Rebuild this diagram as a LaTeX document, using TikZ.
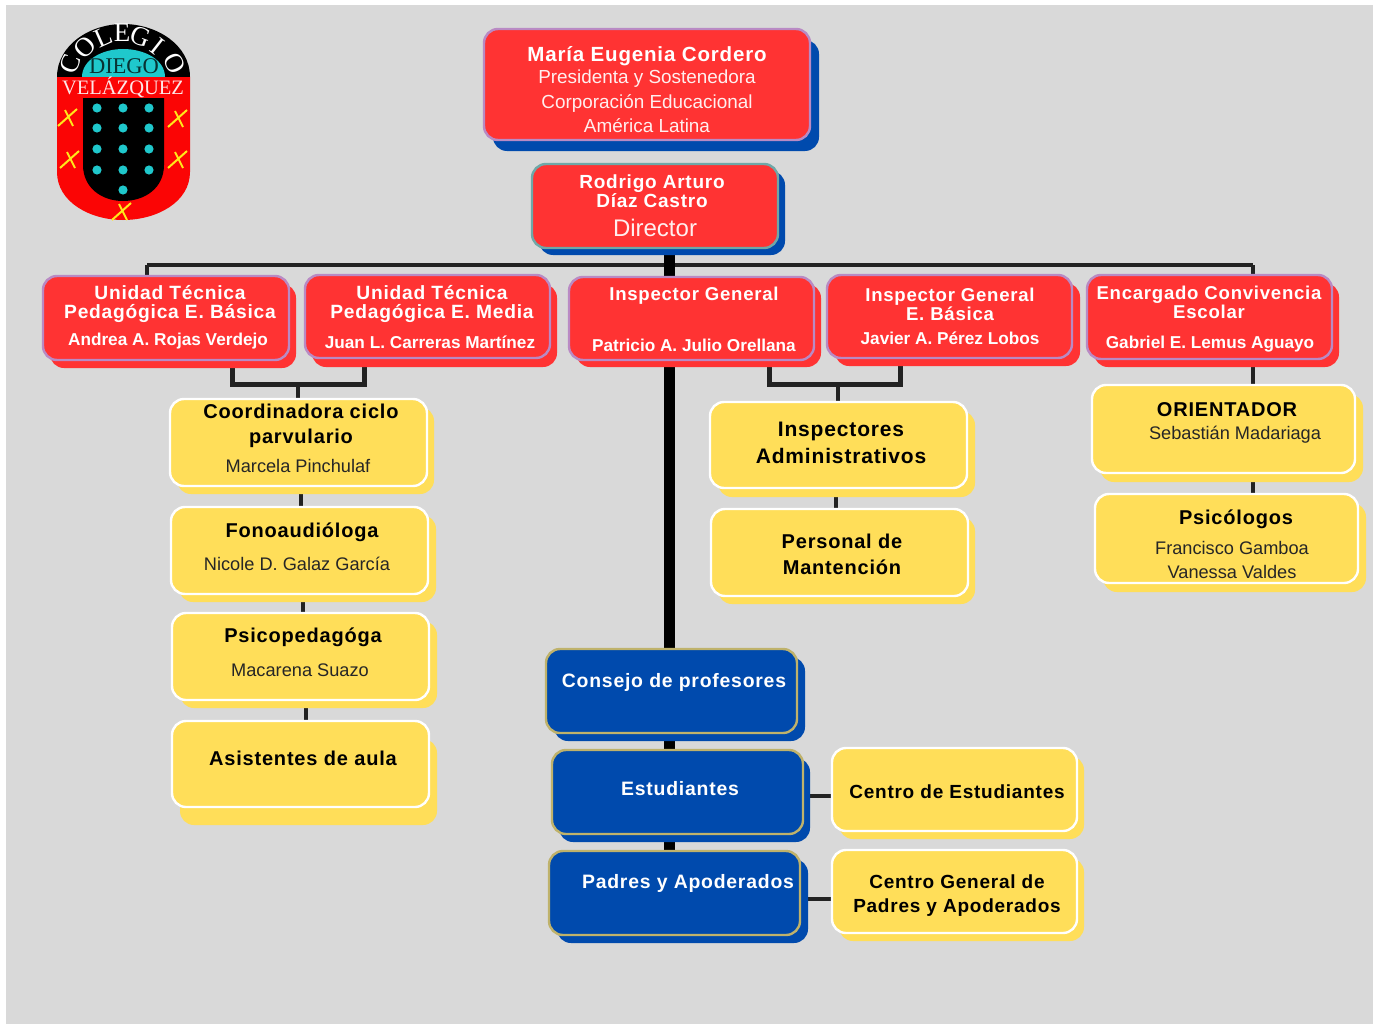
\documentclass[tikz,border=0pt]{standalone}
\usepackage{fontspec}
\usetikzlibrary{shadows}
\setmainfont{Liberation Sans}
\newfontfamily\headfont[LetterSpace=4]{Liberation Sans}
\newfontfamily\logofont{Liberation Serif}
\pgfdeclarelayer{back}
\pgfsetlayers{back,main}

\begin{document}
\begin{tikzpicture}[x=1pt,y=-1pt]
  % Colors
  \definecolor{pagegray}{HTML}{D9D9D9}
  \definecolor{boxred}{HTML}{FF3333}
  \definecolor{boxblue}{HTML}{004AAD}
  \definecolor{boxyellow}{HTML}{FFDE59}
  \definecolor{linedark}{HTML}{222222}
  \definecolor{logored}{HTML}{FB0505}
  \definecolor{logocyan}{HTML}{1FC8CC}
  \definecolor{logoyellow}{HTML}{FFE81A}
  \definecolor{purpleedge}{HTML}{B98AC4}
  \definecolor{tealedge}{HTML}{6FA8A8}
  \definecolor{khakiedge}{HTML}{BFB26B}

  % Styles
  \tikzstyle{box}=[rounded corners=14pt,line width=2.4pt,inner sep=0pt,outer sep=0pt]
  \tikzset{
    shade blue/.style 2 args={general shadow={shadow xshift=#1pt,shadow yshift=-#2pt,fill=boxblue}},
    shade red/.style 2 args={general shadow={shadow xshift=#1pt,shadow yshift=-#2pt,fill=boxred}},
    shade yellow/.style 2 args={general shadow={shadow xshift=#1pt,shadow yshift=-#2pt,fill=boxyellow}},
    size/.style 2 args={minimum width=#1pt,minimum height=#2pt}
  }
  \tikzstyle{redbox}=[box,fill=boxred,draw=purpleedge]
  \tikzstyle{bluebox}=[box,fill=boxblue,draw=khakiedge]
  \tikzstyle{yellowbox}=[box,fill=boxyellow,draw=white]
  \tikzstyle{line}=[anchor=base,inner sep=0pt]
  \tikzstyle{headwhite}=[line,text=white,font=\headfont\bfseries\fontsize{19.4}{24}\selectfont]
  \tikzstyle{headrow}=[line,text=white,font=\headfont\bfseries\fontsize{18.6}{24}\selectfont]
  \tikzstyle{headunit}=[line,text=white,font=\headfont\bfseries\fontsize{19.2}{24}\selectfont]
  \tikzstyle{headblack}=[line,text=black,font=\headfont\bfseries\fontsize{20}{24}\selectfont]
  \tikzstyle{headlarge}=[line,text=black,font=\headfont\bfseries\fontsize{21}{24}\selectfont]
  \tikzstyle{headsmall}=[line,text=black,font=\headfont\bfseries\fontsize{19}{24}\selectfont]
  \tikzstyle{namebold}=[line,text=white,font=\bfseries\fontsize{17.2}{20}\selectfont]
  \tikzstyle{namewhite}=[line,text=white!92!boxred,font=\fontsize{18.9}{22}\selectfont]
  \tikzstyle{nameblack}=[line,text=black!85,font=\fontsize{18.2}{22}\selectfont]
  \tikzstyle{logoletter}=[text=white,inner sep=0pt,font=\logofont\fontsize{27}{30}\selectfont]
  \tikzstyle{bar}=[line width=4pt,draw=linedark]
  \tikzstyle{spine}=[line width=11pt,draw=black]
  \tikzstyle{tick}=[line width=4pt,draw=linedark]

  % Boxes
  \node[redbox,size={326}{111},shade blue={9}{11}] (maria) at (647,84.5) {};
  \node[redbox,draw=tealedge,size={246}{84},shade blue={7}{7}] (director) at (655,206) {};

  \node[redbox,size={246}{84},shade red={7}{8}] (utpbasica) at (166,318) {};
  \node[redbox,size={245}{83},shade red={7}{9}] (utpmedia) at (427.5,316.5) {};
  \node[redbox,size={245}{83},shade red={7}{7}] (inspgeneral) at (691.5,318.5) {};
  \node[redbox,size={245}{83},shade red={8}{8}] (inspbasica) at (949.5,316.5) {};
  \node[redbox,size={245}{84},shade red={7}{8}] (encargado) at (1209.5,317) {};

  \node[yellowbox,size={257}{87},shade yellow={7}{8}] (coordinadora) at (298.5,442.5) {};
  \node[yellowbox,size={257}{87},shade yellow={8}{8}] (fono) at (299.5,550.5) {};
  \node[yellowbox,size={257}{87},shade yellow={8}{8}] (psicoped) at (300.5,656.5) {};
  \node[yellowbox,size={257}{86},shade yellow={8}{18}] (asistentes) at (300.5,764) {};

  \node[yellowbox,size={257}{86},shade yellow={8}{9}] (inspectores) at (838.5,445) {};
  \node[yellowbox,size={257}{87},shade yellow={7}{8}] (personal) at (839.5,552.5) {};

  \node[yellowbox,size={263}{88},shade yellow={8}{9}] (orientador) at (1223.5,429) {};
  \node[yellowbox,size={263}{89},shade yellow={8}{9}] (psicologos) at (1226.5,538.5) {};

  \node[bluebox,size={251}{84},shade blue={8}{8}] (consejo) at (671.5,691) {};
  \node[bluebox,size={251}{84},shade blue={7}{8}] (estudiantes) at (677.5,792) {};
  \node[bluebox,size={251}{84},shade blue={8}{8}] (padres) at (674.5,893) {};
  \node[yellowbox,size={245}{83},shade yellow={7}{8}] (centroest) at (954.5,789.5) {};
  \node[yellowbox,size={245}{83},shade yellow={7}{8}] (centrogen) at (954.5,891.5) {};

  % Text in the boxes
  \node[headwhite,font=\headfont\bfseries\fontsize{20.5}{24}\selectfont] (t1) at (647,62) {María Eugenia Cordero};
  \node[namewhite] (t2) at (647,84) {Presidenta y Sostenedora};
  \node[namewhite] (t3) at (647,108) {Corporación Educacional};
  \node[namewhite] (t4) at (647,132) {América Latina};

  \node[headrow,font=\headfont\bfseries\fontsize{19}{24}\selectfont] (t5) at (652,188) {Rodrigo Arturo};
  \node[headrow,font=\headfont\bfseries\fontsize{19}{24}\selectfont] (t6) at (652,207) {Díaz Castro};
  \node[namewhite,font=\fontsize{24}{26}\selectfont] (t7) at (655,236) {Director};

  \node[headunit] (t8) at (170,299) {Unidad Técnica};
  \node[headunit] (t9) at (170,318) {Pedagógica E. Básica};
  \node[namebold] (t10) at (168,345) {Andrea A. Rojas Verdejo};

  \node[headunit] (t11) at (432,299) {Unidad Técnica};
  \node[headunit] (t12) at (432,318) {Pedagógica E. Media};
  \node[namebold] (t13) at (430,348) {Juan L. Carreras Martínez};

  \node[headrow] (t14) at (694,300) {Inspector General};
  \node[namebold] (t15) at (694,351) {Patricio A. Julio Orellana};

  \node[headrow] (t16) at (950,301) {Inspector General};
  \node[headrow] (t17) at (950,320) {E. Básica};
  \node[namebold] (t18) at (950,344) {Javier A. Pérez Lobos};

  \node[headrow] (t19) at (1209,299) {Encargado Convivencia};
  \node[headrow] (t20) at (1209,318) {Escolar};
  \node[namebold] (t21) at (1210,348) {Gabriel E. Lemus Aguayo};

  \node[headblack] (t22) at (301,418) {Coordinadora ciclo};
  \node[headblack] (t23) at (301,443) {parvulario};
  \node[nameblack] (t24) at (298,472) {Marcela Pinchulaf};
  \node[headblack] (t25) at (302,537) {Fonoaudióloga};
  \node[nameblack] (t26) at (297,570) {Nicole D. Galaz García};
  \node[headblack] (t27) at (303,642) {Psicopedagóga};
  \node[nameblack] (t28) at (300,676) {Macarena Suazo};
  \node[headblack] (t29) at (303,765) {Asistentes de aula};

  \node[headlarge] (t30) at (841,436) {Inspectores};
  \node[headlarge] (t31) at (841,463) {Administrativos};
  \node[headblack] (t32) at (842,548) {Personal de};
  \node[headblack] (t33) at (842,574) {Mantención};

  \node[headblack] (t34) at (1227,416) {ORIENTADOR};
  \node[nameblack] (t35) at (1235,439) {Sebastián Madariaga};
  \node[headblack] (t36) at (1236,524) {Psicólogos};
  \node[nameblack] (t37) at (1232,554) {Francisco Gamboa};
  \node[nameblack] (t38) at (1232,578) {Vanessa Valdes};

  \node[headwhite] (t39) at (674,687) {Consejo de profesores};
  \node[headwhite] (t40) at (680,795) {Estudiantes};
  \node[headwhite] (t41) at (688,888) {Padres y Apoderados};
  \node[headsmall] (t42) at (957,798) {Centro de Estudiantes};
  \node[headsmall] (t43) at (957,888) {Centro General de};
  \node[headsmall] (t44) at (957,912) {Padres y Apoderados};

  % Logo
  \fill[logored] (57,77) -- (57,172) .. controls (57,202) and (90,220) .. (123,220)
    .. controls (157,220) and (190,202) .. (190,172) -- (190,77) -- cycle;
  \fill[black] (57,77) .. controls (57,45) and (90,24) .. (123,24)
    .. controls (157,24) and (190,45) .. (190,77) -- cycle;
  \fill[logocyan] (82,77) .. controls (82,60) and (102,49) .. (123,49)
    .. controls (145,49) and (165,60) .. (165,77) -- cycle;
  \foreach \ch/\x/\y/\rot [count=\i] in {C/70/64/70,O/85/47/46,L/103/37/24,E/122/33/0,G/141/37/-20,I/157/46/-38,O/175/63/-64}
    \node[logoletter,rotate=\rot] (logochar\i) at (\x,\y) {\ch};
  \node[inner sep=0pt,text=black!75!logocyan,font=\logofont\fontsize{22.5}{24}\selectfont] (logodiego) at (124,66) {DIEGO};
  \node[inner sep=0pt,text=white!90!logored,font=\logofont\fontsize{20.5}{22}\selectfont] (logovelazquez) at (123,87) {VELÁZQUEZ};
  \fill[black] (83,98) -- (164,98) -- (164,165) .. controls (164,188) and (145,201) .. (123,201)
    .. controls (102,201) and (83,188) .. (83,165) -- cycle;
  \foreach \y in {108,128,149,170}
    \foreach \x in {97,123,149}
      \fill[logocyan] (\x,\y) circle (4.6pt);
  \fill[logocyan] (123,190) circle (4.6pt);
  \foreach \x/\y in {67/117,177/118,69/159,177/159,121/211}
    \draw[logoyellow,line width=2pt] (\x-9,\y+9) -- (\x+10,\y-8) (\x-2,\y-7) -- (\x+6,\y+9);

  % Connectors
  \coordinate (barleft) at (147,265);
  \coordinate (barright) at (1253,265);
  \coordinate (spinetop) at (669,248);
  \coordinate (utpleft) at (232,360);
  \coordinate (utpright) at (364,358);
  \coordinate (utpjoin) at (298,384);
  \coordinate (inspleft) at (769,360);
  \coordinate (inspright) at (900,358);
  \coordinate (inspjoin) at (838,384);
  \coordinate (encdrop) at (1253,359);
  \coordinate (tickcoord) at (301,486);
  \coordinate (tickfono) at (303,594);
  \coordinate (tickpsico) at (306,700);
  \coordinate (tickinsp) at (836,488);
  \coordinate (tickorient) at (1253,473);
  \coordinate (linkest) at (803,796);
  \coordinate (linkpadres) at (800,899);

  \begin{pgfonlayer}{back}
    \fill[white] (0,0) rectangle (1376,1025);
    \fill[pagegray] (6,5) rectangle (1373,1024);
    \draw[bar] (barleft) -- (barright);
    \draw[bar] (barleft) -- (barleft |- utpbasica.north);
    \draw[bar] (barright) -- (barright |- encargado.north);
    \draw[spine] (spinetop) -- (spinetop |- consejo.north);
    \draw[spine] (spinetop |- consejo.south) -- (spinetop |- estudiantes.north);
    \draw[spine] (spinetop |- estudiantes.south) -- (spinetop |- padres.north);
    \draw[bar,line width=5pt] (utpleft) |- (utpjoin) -| (utpright);
    \draw[tick] (utpjoin) -- (utpjoin |- coordinadora.north);
    \draw[bar,line width=5pt] (inspleft) |- (inspjoin) -| (inspright);
    \draw[tick] (inspjoin) -- (inspjoin |- inspectores.north);
    \draw[tick] (encdrop) -- (encdrop |- orientador.north);
    \draw[tick] (tickcoord) -- (tickcoord |- fono.north);
    \draw[tick] (tickfono) -- (tickfono |- psicoped.north);
    \draw[tick] (tickpsico) -- (tickpsico |- asistentes.north);
    \draw[tick] (tickinsp) -- (tickinsp |- personal.north);
    \draw[tick] (tickorient) -- (tickorient |- psicologos.north);
    \draw[bar] (linkest) -- (linkest -| centroest.west);
    \draw[bar] (linkpadres) -- (linkpadres -| centrogen.west);
  \end{pgfonlayer}

  \useasboundingbox (0,0) rectangle (1376,1025);
\end{tikzpicture}
\end{document}
